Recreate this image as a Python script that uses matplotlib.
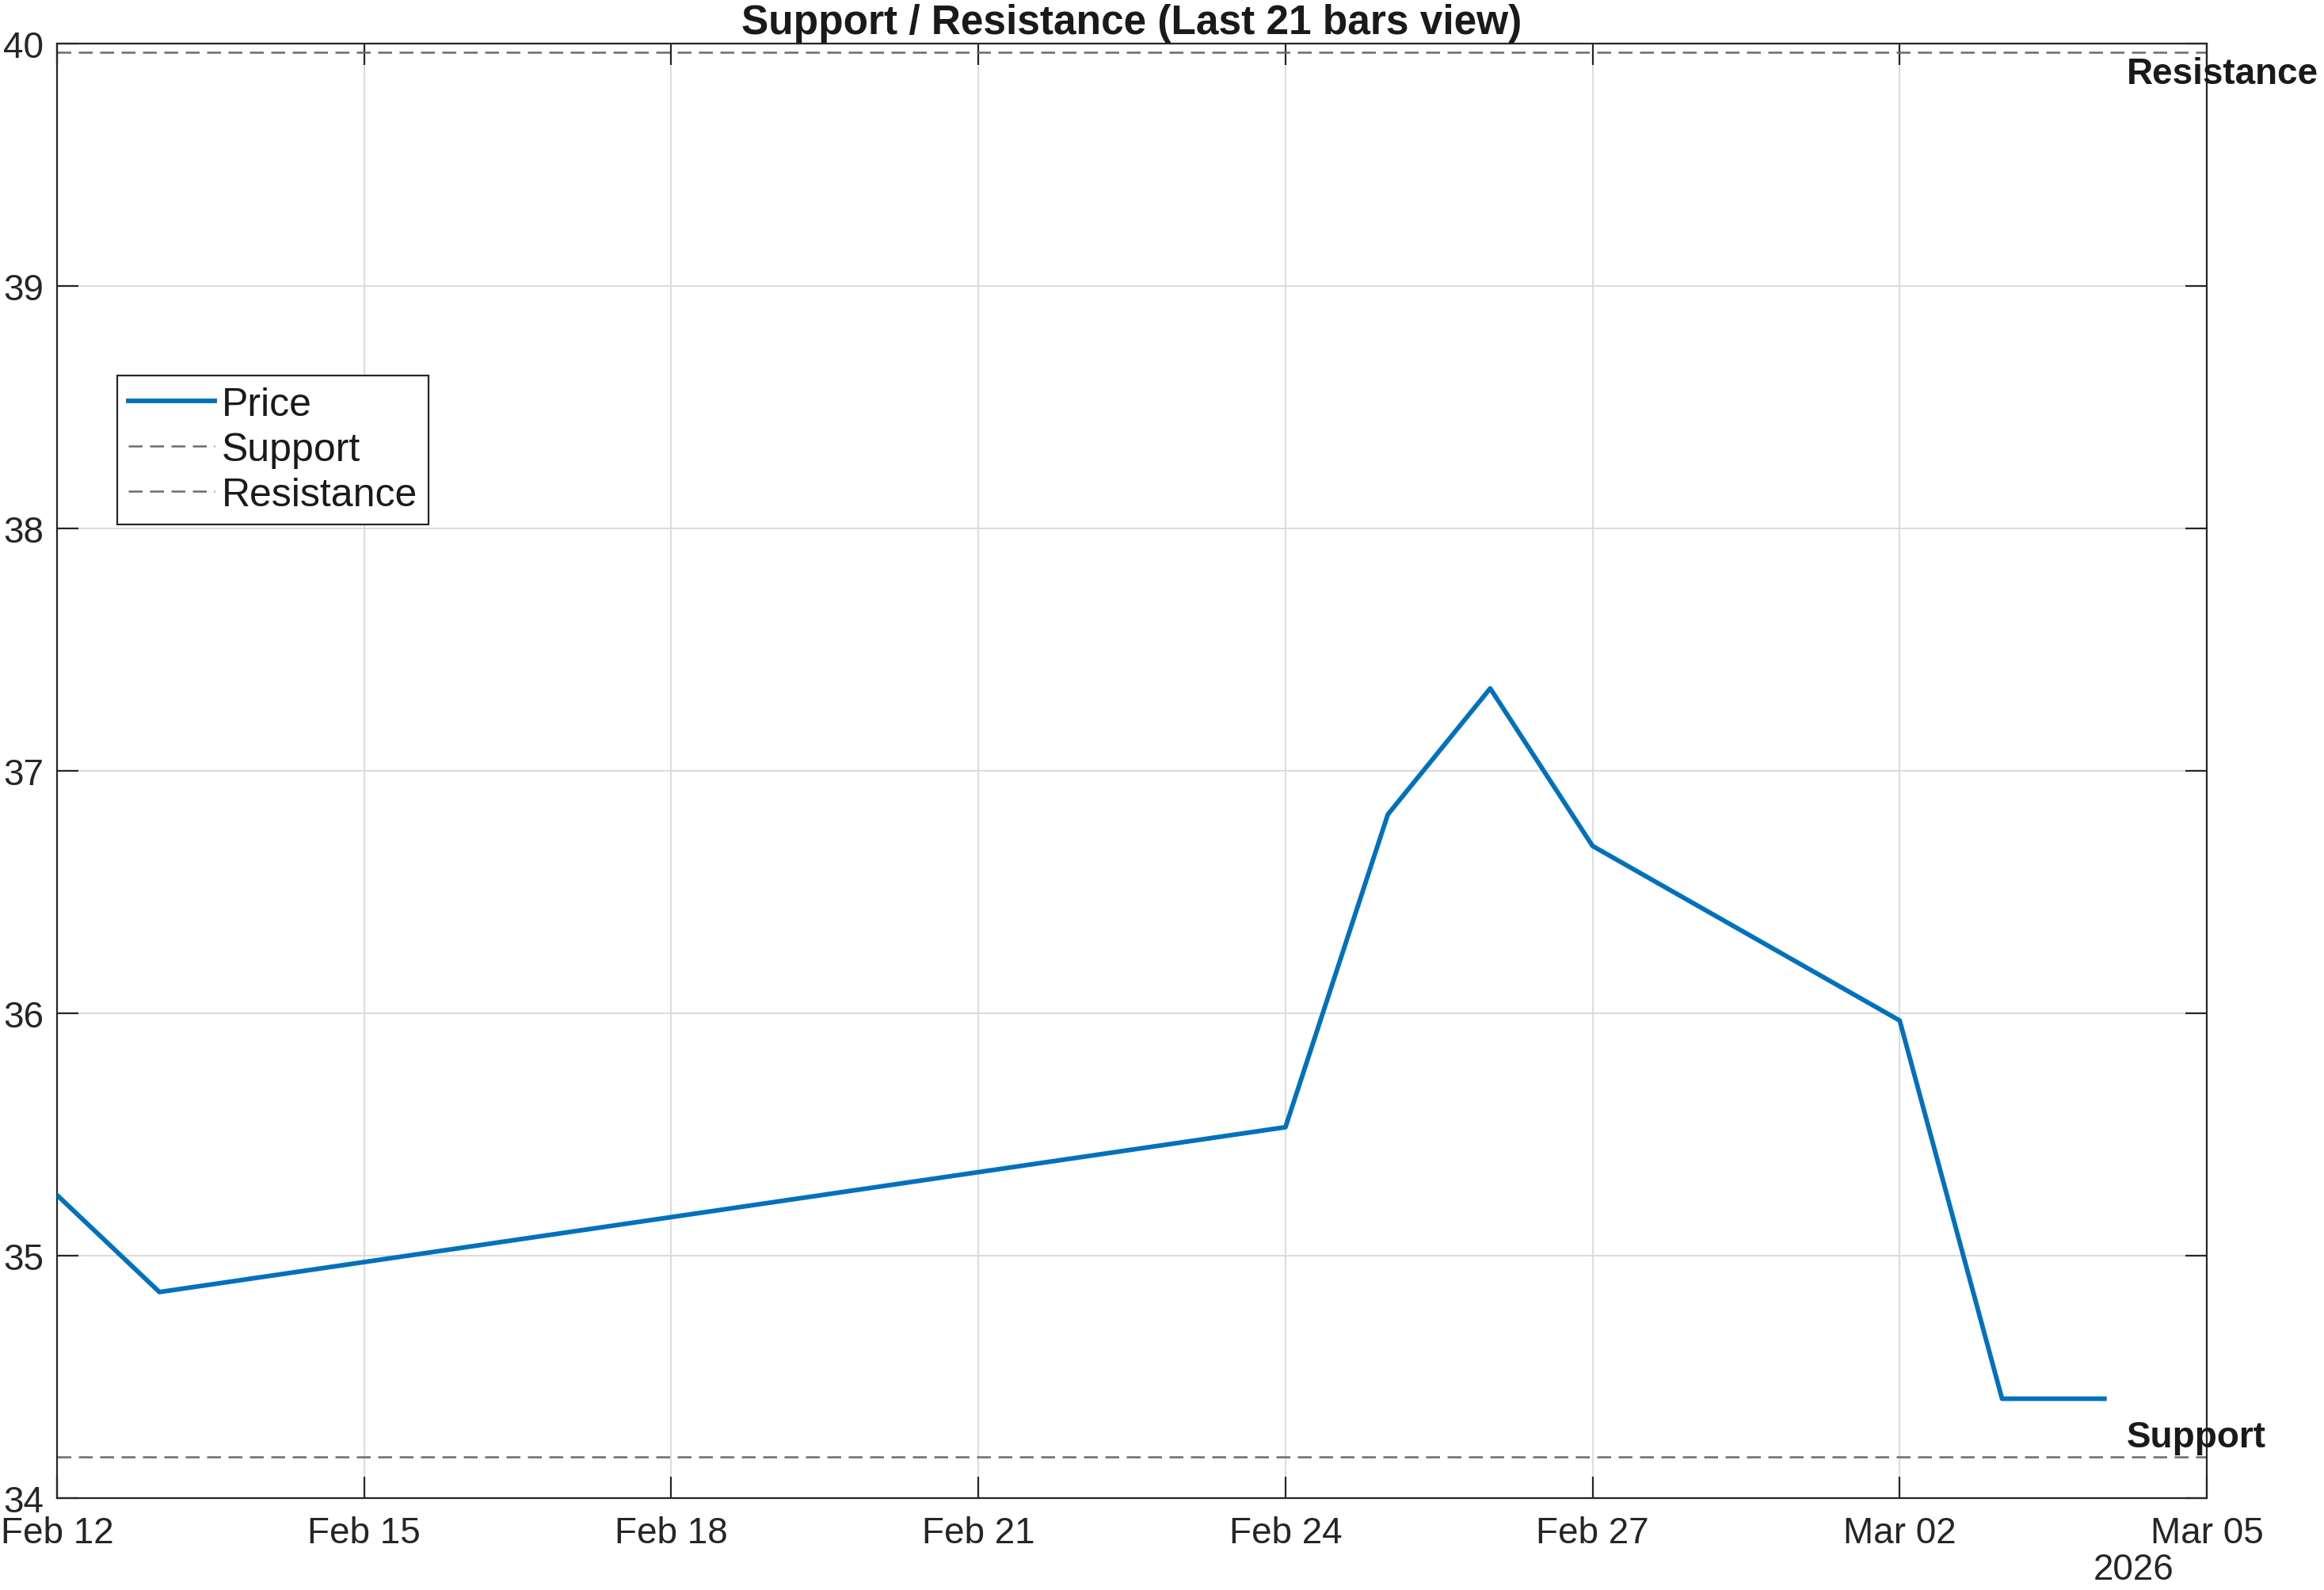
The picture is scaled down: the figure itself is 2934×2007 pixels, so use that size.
import numpy as np
import pandas as pd
import matplotlib
matplotlib.use("Agg")
import matplotlib.pyplot as plt
import matplotlib.dates as mdates

plt.rcParams['font.family'] = ['Liberation Sans', 'DejaVu Sans']

# price series (last bars in view)
dates = pd.to_datetime(['2026-02-12', '2026-02-13', '2026-02-24', '2026-02-25',
                        '2026-02-26', '2026-02-27', '2026-03-02', '2026-03-03',
                        '2026-03-04'])
prices = [35.25, 34.85, 35.53, 36.82, 37.34, 36.69, 35.97, 34.41, 34.41]

support = 34.17
resistance = 39.965

x_start = pd.Timestamp('2026-02-12')
x_end = pd.Timestamp('2026-03-05')
x_ticks = pd.date_range(x_start, x_end, freq='3D')
y_ticks = [34, 35, 36, 37, 38, 39, 40]

dark = '#262626'
blue = '#0072BD'
gray = '#6b6b6b'

fig = plt.figure(figsize=(14.67, 10.04), dpi=200)
ax = fig.add_axes([0.02454, 0.05777, 0.92502, 0.91434])

ax.plot(dates, prices, color=blue, lw=2.1, label='Price', zorder=3)
ax.axhline(support, color=gray, lw=0.9, ls=(0, (7, 3.8)), label='Support', zorder=2)
ax.axhline(resistance, color=gray, lw=0.9, ls=(0, (7, 3.8)), label='Resistance', zorder=2)

ax.set_xlim(x_start, x_end)
ax.set_ylim(34, 40)
ax.set_xticks(x_ticks)
ax.xaxis.set_major_formatter(mdates.DateFormatter('%b %d'))
ax.set_yticks(y_ticks)

ax.grid(True, color='#dcdcdc', lw=0.75)
ax.set_axisbelow(True)
for s in ax.spines.values():
    s.set_color(dark)
    s.set_linewidth(0.8)
ax.tick_params(direction='in', top=True, right=True, length=9.7, width=0.8,
               color=dark, labelcolor=dark, labelsize=16.5)
ax.tick_params(axis='x', pad=8)
ax.tick_params(axis='y', pad=6)

ax.set_title('Support / Resistance (Last 21 bars view)', fontsize=18.5,
             fontweight='bold', color='#1a1a1a', pad=4.7)

ax.annotate('Resistance', xy=(dates[-1], resistance), xytext=(10, -2),
            textcoords='offset points', ha='left', va='top', fontsize=16.5,
            fontweight='bold', color='#1a1a1a', annotation_clip=False)
ax.annotate('Support', xy=(dates[-1], support), xytext=(10, 1),
            textcoords='offset points', ha='left', va='bottom', fontsize=16.5,
            fontweight='bold', color='#1a1a1a', annotation_clip=False)

fig.text(0.9182, 0.002, '2026', ha='center', va='bottom', fontsize=16.5, color=dark)

leg = ax.legend(loc='upper left', bbox_to_anchor=(0.028, 0.7718), borderaxespad=0,
                fontsize=18, fancybox=False, framealpha=1, edgecolor=dark,
                handlelength=2.18, handletextpad=0.18, borderpad=0.28, labelspacing=0.22)
leg.get_frame().set_linewidth(0.8)
for t in leg.get_texts():
    t.set_color('#1a1a1a')

fig.savefig('out.png', dpi=200)
